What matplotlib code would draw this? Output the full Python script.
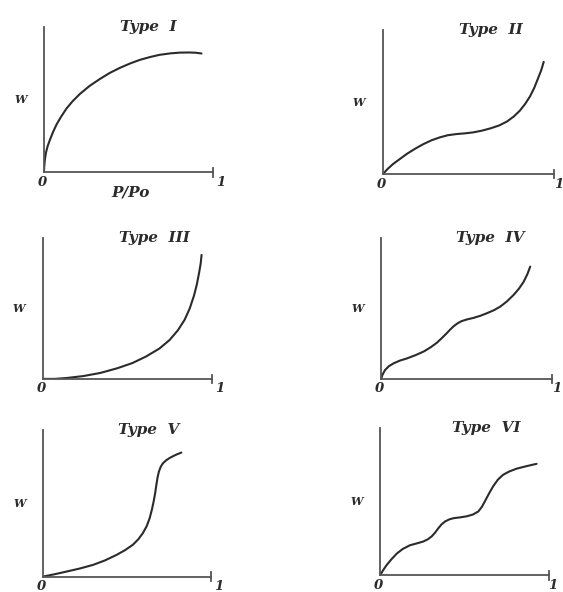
import matplotlib
matplotlib.use('Agg')
import matplotlib.pyplot as plt

# Isotherm shapes (P/Po on x, W on y, both scaled 0..1)
type1_x = [0, 0.002, 0.006, 0.012, 0.022, 0.036, 0.055, 0.075, 0.1, 0.134, 0.17, 0.213, 0.27,
           0.331, 0.39, 0.45, 0.51, 0.568, 0.63, 0.686, 0.75, 0.805, 0.86, 0.9, 0.933]
type1_y = [0, 0.04, 0.09, 0.135, 0.18, 0.225, 0.28, 0.33, 0.38, 0.44, 0.49, 0.54, 0.595,
           0.643, 0.685, 0.72, 0.75, 0.775, 0.795, 0.81, 0.82, 0.825, 0.826, 0.824, 0.819]

type2_x = [0, 0.03, 0.06, 0.1, 0.14, 0.19, 0.235, 0.285, 0.333, 0.38, 0.43, 0.48, 0.53,
           0.58, 0.63, 0.68, 0.725, 0.765, 0.80, 0.83, 0.86, 0.885, 0.905, 0.925, 0.94]
type2_y = [0, 0.038, 0.07, 0.105, 0.14, 0.177, 0.207, 0.235, 0.255, 0.27, 0.278, 0.283, 0.29,
           0.302, 0.318, 0.338, 0.365, 0.4, 0.44, 0.485, 0.54, 0.6, 0.66, 0.72, 0.78]

type3_x = [0, 0.07, 0.14, 0.24, 0.34, 0.44, 0.53, 0.61, 0.69, 0.75, 0.8, 0.84, 0.87,
           0.895, 0.912, 0.925, 0.935, 0.94]
type3_y = [0, 0.0, 0.006, 0.02, 0.042, 0.075, 0.112, 0.158, 0.215, 0.275, 0.345, 0.42, 0.5,
           0.59, 0.67, 0.75, 0.82, 0.88]

type4_x = [0, 0.008, 0.023, 0.045, 0.072, 0.11, 0.15, 0.2, 0.25, 0.29, 0.325, 0.355, 0.384,
           0.405, 0.425, 0.445, 0.47, 0.505, 0.54, 0.58, 0.618, 0.66, 0.696, 0.735, 0.774,
           0.805, 0.833, 0.855, 0.871]
type4_y = [0, 0.03, 0.063, 0.09, 0.11, 0.13, 0.145, 0.168, 0.195, 0.225, 0.256, 0.29, 0.325,
           0.352, 0.375, 0.393, 0.41, 0.423, 0.433, 0.448, 0.466, 0.488, 0.513, 0.55, 0.596,
           0.64, 0.69, 0.745, 0.797]

type5_x = [0, 0.07, 0.14, 0.22, 0.30, 0.37, 0.44, 0.49, 0.537, 0.57, 0.597, 0.62, 0.637,
           0.65, 0.661, 0.67, 0.677, 0.684, 0.692, 0.703, 0.716, 0.735, 0.756, 0.776, 0.796, 0.826]
type5_y = [0, 0.016, 0.034, 0.055, 0.08, 0.11, 0.148, 0.18, 0.217, 0.255, 0.297, 0.345, 0.398,
           0.455, 0.513, 0.57, 0.625, 0.675, 0.715, 0.748, 0.772, 0.792, 0.808, 0.82, 0.831, 0.845]

type6_x = [0, 0.018, 0.04, 0.068, 0.099, 0.135, 0.178, 0.22, 0.256, 0.283, 0.306, 0.326, 0.345,
           0.365, 0.385, 0.41, 0.434, 0.475, 0.513, 0.55, 0.582, 0.603, 0.621, 0.645, 0.67,
           0.698, 0.729, 0.765, 0.808, 0.87, 0.927]
type6_y = [0, 0.035, 0.072, 0.11, 0.148, 0.18, 0.205, 0.218, 0.23, 0.245, 0.265, 0.29, 0.32,
           0.347, 0.366, 0.38, 0.388, 0.394, 0.401, 0.413, 0.434, 0.465, 0.503, 0.555, 0.605,
           0.65, 0.683, 0.705, 0.724, 0.742, 0.757]

titles = ['Type  I', 'Type  II', 'Type  III', 'Type  IV', 'Type  V', 'Type  VI']
curves = [(type1_x, type1_y), (type2_x, type2_y), (type3_x, type3_y),
          (type4_x, type4_y), (type5_x, type5_y), (type6_x, type6_y)]

# axes boxes in figure fraction: left, bottom, width, height
boxes = [
    [0.078, 0.709, 0.300, 0.245],
    [0.680, 0.706, 0.304, 0.243],
    [0.076, 0.360, 0.300, 0.238],
    [0.677, 0.360, 0.304, 0.238],
    [0.076, 0.026, 0.298, 0.248],
    [0.675, 0.028, 0.300, 0.249],
]
# title centre x in axes fraction
title_x = [0.62, 0.63, 0.66, 0.64, 0.63, 0.63]

ink = '#2b2b2b'
axis_ink = '#555555'
font = dict(family='DejaVu Serif', weight='bold', style='italic', color=ink)

fig = plt.figure(figsize=(5.63, 5.92), dpi=100)

for i, (box, (xs, ys)) in enumerate(zip(boxes, curves)):
    ax = fig.add_axes(box)
    ax.plot(xs, ys, color=ink, linewidth=1.5, solid_capstyle='round', solid_joinstyle='round')
    ax.set_xlim(0, 1)
    ax.set_ylim(0, 1)
    for side in ['top', 'right']:
        ax.spines[side].set_visible(False)
    for side in ['left', 'bottom']:
        ax.spines[side].set_color(axis_ink)
        ax.spines[side].set_linewidth(1.3)
    ax.set_xticks([])
    ax.set_yticks([])
    # end tick on the x axis
    ax.plot([1, 1], [-0.03, 0.03], color=axis_ink, linewidth=1.3, clip_on=False)
    right = i % 2 == 1
    ax.text(-0.01, -0.07, '0', ha='center', va='center', fontsize=9.5, **font)
    ax.text(1.025 if right else 1.05, -0.07, '1', ha='center', va='center', fontsize=9.5, **font)
    ax.text(-0.14, 0.5, 'W', ha='center', va='center', fontsize=8, **font)
    ax.text(title_x[i], 1.0, titles[i], ha='center', va='center', fontsize=11, **font)
    if i == 0:
        ax.text(0.51, -0.14, 'P/Po', ha='center', va='center', fontsize=11, **font)

fig.savefig('out.png', dpi=100, facecolor='white')
